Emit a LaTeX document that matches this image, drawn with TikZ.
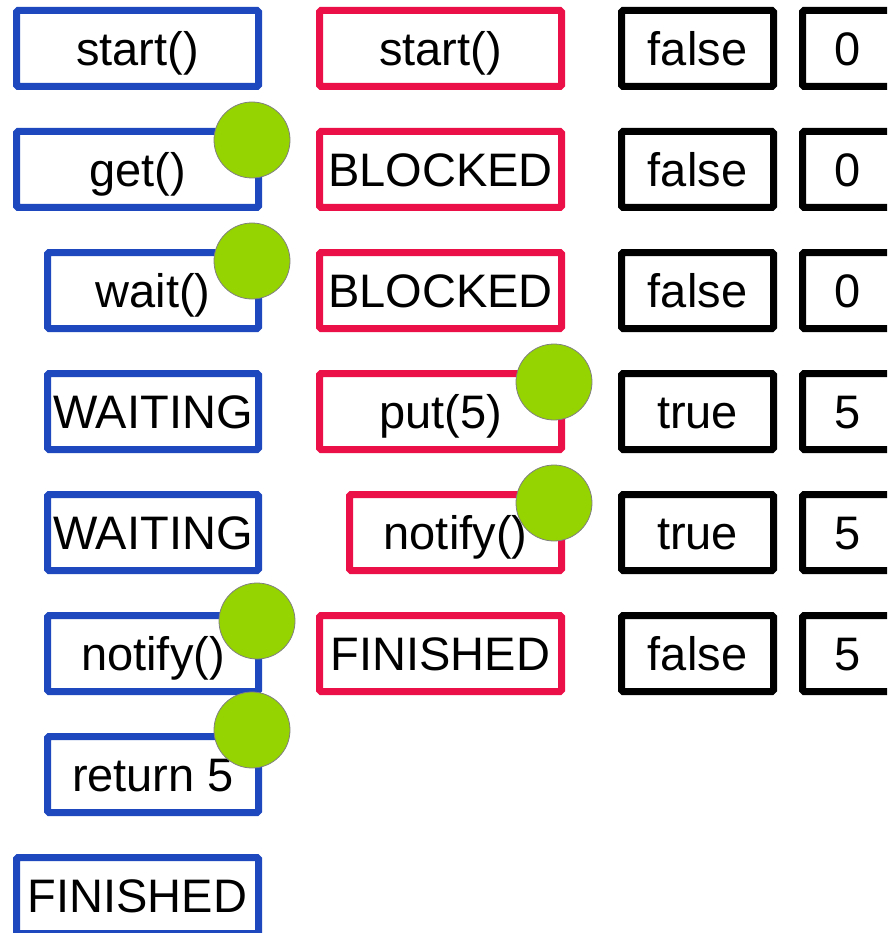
\documentclass[tikz,border=0pt]{standalone}
\usepackage{fontspec}
\setmainfont{Liberation Sans}
\definecolor{bblue}{RGB}{30,72,190}
\definecolor{rred}{RGB}{236,16,72}
\definecolor{ggreen}{RGB}{149,212,0}
\begin{document}
\begin{tikzpicture}[x=1pt,y=-1pt,
  box/.style={draw,line width=7pt,rounded corners=1.5pt,inner sep=0pt,minimum height=76pt,
    text height=33.7pt,text depth=0pt,
    font=\fontsize{47}{50}\selectfont,fill=white},
  bluewide/.style={box,draw=bblue,minimum width=242pt},
  bluenar/.style={box,draw=bblue,minimum width=211pt},
  redwide/.style={box,draw=rred,minimum width=242pt},
  rednar/.style={box,draw=rred,minimum width=212pt},
  blkbool/.style={box,draw=black,minimum width=152pt},
  blknum/.style={box,draw=black,minimum width=91pt},
  dot/.style={circle,fill=ggreen,draw=gray,line width=0.8pt,minimum size=76pt,inner sep=0pt}]
\useasboundingbox (0,0) rectangle (887,933);
\begin{scope}
\clip (0,0) rectangle (887,933);
% blue column
\node[bluewide] (b1) at (137.5,48.5) {start()};
\node[bluewide] (b2) at (137.5,169.5) {get()};
\node[bluenar] (b3) at (153,290.5) {wait()};
\node[bluenar] (b4) at (153,411.5) {WAITING};
\node[bluenar] (b5) at (153,532.5) {WAITING};
\node[bluenar] (b6) at (153,653.5) {notify()};
\node[bluenar] (b7) at (153,774.5) {return 5};
\node[bluewide] (b8) at (137.5,895.5) {FINISHED};
% red column
\node[redwide] (r1) at (440.5,48.5) {start()};
\node[redwide] (r2) at (440.5,169.5) {BLOCKED};
\node[redwide] (r3) at (440.5,290.5) {BLOCKED};
\node[redwide] (r4) at (440.5,411.5) {put(5)};
\node[rednar] (r5) at (455.5,532.5) {notify()};
\node[redwide] (r6) at (440.5,653.5) {FINISHED};
% black columns
\node[blkbool] (f1) at (697.5,48.5) {false};
\node[blkbool] (f2) at (697.5,169.5) {false};
\node[blkbool] (f3) at (697.5,290.5) {false};
\node[blkbool] (f4) at (697.5,411.5) {true};
\node[blkbool] (f5) at (697.5,532.5) {true};
\node[blkbool] (f6) at (697.5,653.5) {false};
\node[blknum] (n1) at (848,48.5) {0};
\node[blknum] (n2) at (848,169.5) {0};
\node[blknum] (n3) at (848,290.5) {0};
\node[blknum] (n4) at (848,411.5) {5};
\node[blknum] (n5) at (848,532.5) {5};
\node[blknum] (n6) at (848,653.5) {5};
% green dots
\node[dot] (g1) at (252,140) {};
\node[dot] (g2) at (252,261) {};
\node[dot] (g3) at (554,382) {};
\node[dot] (g4) at (554,503) {};
\node[dot] (g5) at (257,621) {};
\node[dot] (g6) at (252,730) {};
\end{scope}
\end{tikzpicture}
\end{document}
